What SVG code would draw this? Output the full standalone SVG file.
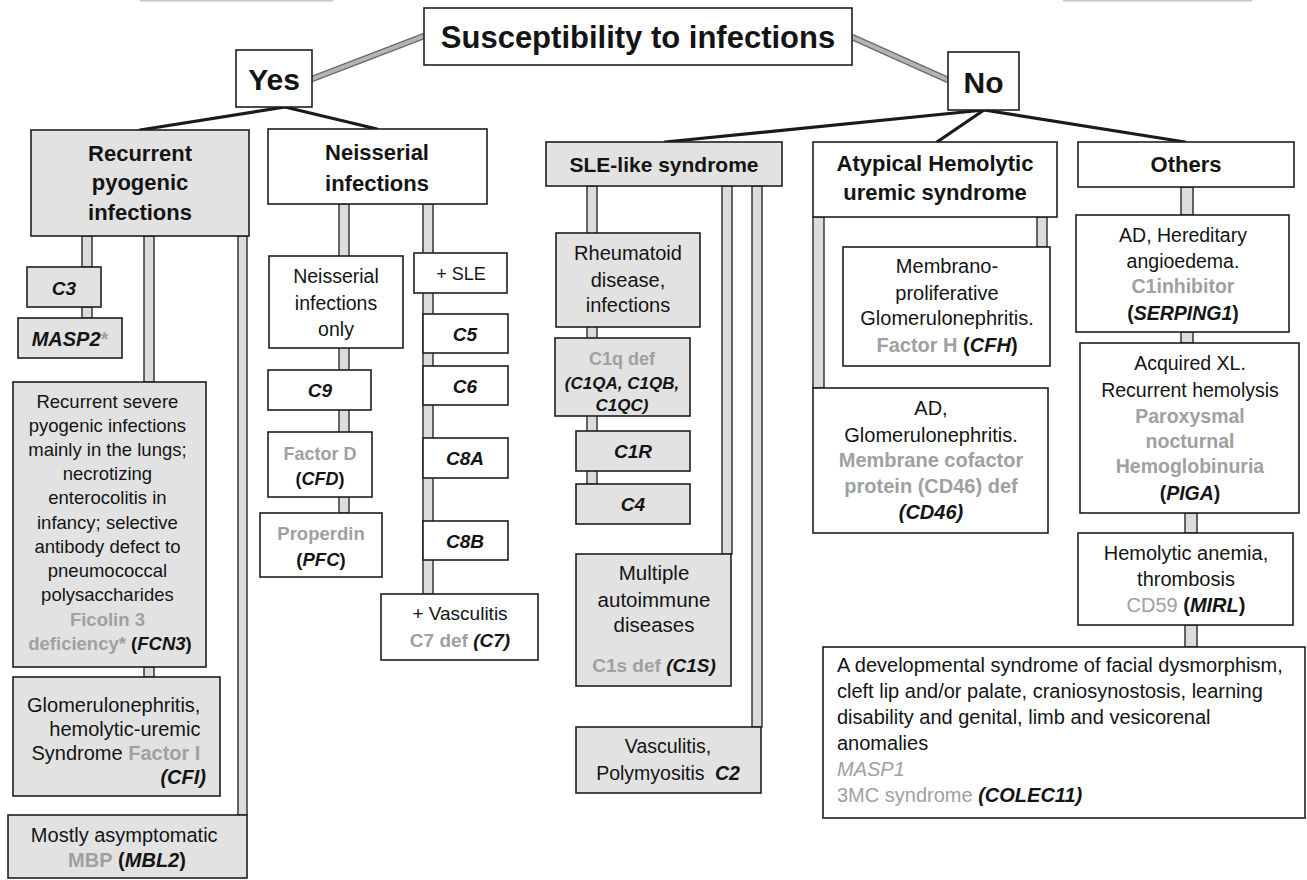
<svg xmlns="http://www.w3.org/2000/svg" width="1307" height="880" viewBox="0 0 1307 880">
<style>
  .bx{stroke:#1e1e1e;stroke-width:1.6}
  .sh{fill:#e2e2e2}
  .wh{fill:#fff}
  .pipe{fill:#dcdcdc;stroke:#2a2a2a;stroke-width:1.4}
  .ln{stroke:#1a1a1a;stroke-width:3.2;fill:none;stroke-linecap:round}
  .gl{stroke:#6a6a6a;stroke-width:6.5;fill:none}
  .gl2{stroke:#b4b4b4;stroke-width:4;fill:none}
  .edge{stroke:#c4c4c4;stroke-width:1.5}
  text{font-family:"Liberation Sans",Arial,sans-serif;fill:#141414;text-anchor:middle}
  .hd{font-weight:bold;font-size:22px}
  .b20{font-size:20px}
  .gn{font-weight:bold;font-style:italic}
  .bd{font-weight:bold}
  .gy{fill:#a0a0a0;font-weight:bold}
</style>

<!-- faint page-edge rules along the top -->
<line class="edge" x1="140" y1="0.8" x2="333" y2="0.8"/>
<line class="edge" x1="1063" y1="0.8" x2="1252" y2="0.8"/>

<g id="connectors">
  <!-- root to Yes / No -->
  <line class="gl" x1="312" y1="79" x2="424" y2="36"/>
  <line class="gl2" x1="312" y1="79" x2="424" y2="36"/>
  <line class="gl" x1="852" y1="37" x2="948" y2="80"/>
  <line class="gl2" x1="852" y1="37" x2="948" y2="80"/>
  <!-- Yes branches -->
  <line class="ln" x1="285" y1="107" x2="140" y2="130"/>
  <line class="ln" x1="285" y1="107" x2="377" y2="129"/>
  <!-- No branches -->
  <line class="ln" x1="984" y1="110" x2="665" y2="142"/>
  <line class="ln" x1="984" y1="110" x2="937" y2="142"/>
  <line class="ln" x1="984" y1="110" x2="1185" y2="142"/>
  <!-- recurrent pyogenic column pipes -->
  <rect class="pipe" x="82" y="236" width="10" height="31"/>
  <rect class="pipe" x="82" y="307" width="10" height="11"/>
  <rect class="pipe" x="144" y="236" width="10" height="146"/>
  <rect class="pipe" x="144" y="667" width="10" height="10"/>
  <rect class="pipe" x="238" y="236" width="9" height="579"/>
  <!-- neisserial column pipes -->
  <rect class="pipe" x="339" y="204" width="10" height="309"/>
  <rect class="pipe" x="423" y="204" width="10" height="390"/>
  <!-- SLE column pipes -->
  <rect class="pipe" x="587" y="186" width="10" height="298"/>
  <rect class="pipe" x="722" y="186" width="10" height="368"/>
  <rect class="pipe" x="752" y="186" width="10" height="541"/>
  <!-- aHUS column pipes -->
  <rect class="pipe" x="813" y="217" width="11" height="171"/>
  <rect class="pipe" x="1037" y="217" width="10" height="30"/>
  <!-- others column pipes -->
  <rect class="pipe" x="1181" y="187" width="12" height="28"/>
  <rect class="pipe" x="1181" y="332" width="12" height="11"/>
  <rect class="pipe" x="1185" y="513" width="12" height="20"/>
  <rect class="pipe" x="1185" y="625" width="12" height="22"/>
</g>

<!-- top level -->
<g id="root">
  <rect class="bx wh" x="424" y="8" width="428" height="57"/>
  <text x="638" y="48" class="bd" font-size="31">Susceptibility to infections</text>
</g>
<g id="yes">
  <rect class="bx wh" x="236" y="50" width="76" height="57"/>
  <text x="274" y="90" class="bd" font-size="30">Yes</text>
</g>
<g id="no">
  <rect class="bx wh" x="948" y="52" width="71" height="58"/>
  <text x="983.5" y="93" class="bd" font-size="30">No</text>
</g>

<!-- category headers -->
<g id="recurrent">
  <rect class="bx sh" x="31" y="130" width="218" height="106"/>
  <text class="hd"><tspan x="140" y="161">Recurrent</tspan><tspan x="140" y="190">pyogenic</tspan><tspan x="140" y="220">infections</tspan></text>
</g>
<g id="neisserial">
  <rect class="bx wh" x="268" y="129" width="219" height="75"/>
  <text class="hd"><tspan x="377" y="160">Neisserial</tspan><tspan x="377" y="191">infections</tspan></text>
</g>
<g id="sle">
  <rect class="bx sh" x="546" y="142" width="236" height="44"/>
  <text class="bd" font-size="21" x="664" y="172">SLE-like syndrome</text>
</g>
<g id="ahus">
  <rect class="bx wh" x="813" y="142" width="244" height="75"/>
  <text class="hd"><tspan x="935" y="171">Atypical Hemolytic</tspan><tspan x="935" y="200">uremic syndrome</tspan></text>
</g>
<g id="others">
  <rect class="bx wh" x="1078" y="142" width="216" height="45"/>
  <text class="hd" x="1186" y="172">Others</text>
</g>

<!-- recurrent pyogenic column -->
<g id="c3">
  <rect class="bx sh" x="27" y="267" width="74" height="40"/>
  <text class="gn" font-size="19" x="64" y="295">C3</text>
</g>
<g id="masp2">
  <rect class="bx sh" x="18" y="318" width="104" height="40"/>
  <text font-size="20" x="70" y="346"><tspan class="gn">MASP2</tspan><tspan class="gy">*</tspan></text>
</g>
<g id="fcn3">
  <rect class="bx sh" x="13" y="382" width="193" height="285"/>
  <text font-size="18.5">
    <tspan x="110" y="408">Recurrent severe</tspan>
    <tspan x="110" y="432">pyogenic infections</tspan>
    <tspan x="110" y="456">mainly in the lungs;</tspan>
    <tspan x="110" y="480">necrotizing</tspan>
    <tspan x="110" y="504">enterocolitis in</tspan>
    <tspan x="110" y="529">infancy; selective</tspan>
    <tspan x="110" y="553">antibody defect to</tspan>
    <tspan x="110" y="577">pneumococcal</tspan>
    <tspan x="110" y="601">polysaccharides</tspan>
    <tspan x="110" y="626" class="gy">Ficolin 3</tspan>
    <tspan x="110" y="650"><tspan class="gy">deficiency*</tspan> <tspan class="bd">(</tspan><tspan class="gn">FCN3</tspan><tspan class="bd">)</tspan></tspan>
  </text>
</g>
<g id="cfi">
  <rect class="bx sh" x="13" y="677" width="207" height="119"/>
  <text font-size="20" text-anchor="end" style="text-anchor:end">
    <tspan x="206" y="712">Glomerulonephritis,</tspan>
    <tspan x="206" y="736">hemolytic-uremic</tspan>
    <tspan x="206" y="760">Syndrome <tspan class="gy">Factor I</tspan></tspan>
    <tspan x="206" y="784" class="gn">(CFI)</tspan>
  </text>
</g>
<g id="mbl2">
  <rect class="bx sh" x="8" y="815" width="239" height="63"/>
  <text font-size="20">
    <tspan x="127" y="842">Mostly asymptomatic</tspan>
    <tspan x="127" y="867"><tspan class="gy">MBP</tspan> <tspan class="bd">(</tspan><tspan class="gn">MBL2</tspan><tspan class="bd">)</tspan></tspan>
  </text>
</g>

<!-- neisserial column -->
<g id="neisserial-only">
  <rect class="bx wh" x="269" y="256" width="134" height="92"/>
  <text font-size="19.5"><tspan x="336" y="283">Neisserial</tspan><tspan x="336" y="310">infections</tspan><tspan x="336" y="336">only</tspan></text>
</g>
<g id="c9">
  <rect class="bx wh" x="268" y="370" width="103" height="40"/>
  <text class="gn" font-size="19" x="320" y="397">C9</text>
</g>
<g id="cfd">
  <rect class="bx wh" x="268" y="432" width="104" height="65"/>
  <text font-size="18"><tspan x="320" y="460" class="gy">Factor D</tspan><tspan x="320" y="485"><tspan class="bd">(</tspan><tspan class="gn">CFD</tspan><tspan class="bd">)</tspan></tspan></text>
</g>
<g id="pfc">
  <rect class="bx wh" x="260" y="513" width="122" height="64"/>
  <text font-size="18.5"><tspan x="321" y="540" class="gy">Properdin</tspan><tspan x="321" y="566"><tspan class="bd">(</tspan><tspan class="gn">PFC</tspan><tspan class="bd">)</tspan></tspan></text>
</g>
<g id="plus-sle">
  <rect class="bx wh" x="414" y="253" width="93" height="40"/>
  <text font-size="18" x="461" y="280">+ SLE</text>
</g>
<g id="c5">
  <rect class="bx wh" x="423" y="314" width="85" height="39"/>
  <text class="gn" font-size="19" x="465" y="341">C5</text>
</g>
<g id="c6">
  <rect class="bx wh" x="423" y="366" width="85" height="39"/>
  <text class="gn" font-size="19" x="465" y="393">C6</text>
</g>
<g id="c8a">
  <rect class="bx wh" x="423" y="438" width="85" height="40"/>
  <text class="gn" font-size="19" x="465" y="465">C8A</text>
</g>
<g id="c8b">
  <rect class="bx wh" x="423" y="521" width="85" height="39"/>
  <text class="gn" font-size="19" x="465" y="548">C8B</text>
</g>
<g id="c7">
  <rect class="bx wh" x="381" y="594" width="157" height="66"/>
  <text font-size="19"><tspan x="460" y="620">+ Vasculitis</tspan><tspan x="460" y="647"><tspan class="gy">C7 def</tspan> <tspan class="gn">(C7)</tspan></tspan></text>
</g>

<!-- SLE-like column -->
<g id="c1q-disease">
  <rect class="bx sh" x="556" y="233" width="144" height="94"/>
  <text font-size="20"><tspan x="628" y="260">Rheumatoid</tspan><tspan x="628" y="287">disease,</tspan><tspan x="628" y="312">infections</tspan></text>
</g>
<g id="c1q">
  <rect class="bx sh" x="555" y="338" width="135" height="78"/>
  <text><tspan x="622" y="365" class="gy" font-size="18">C1q def</tspan><tspan x="622" y="389" class="gn" font-size="17">(C1QA, C1QB,</tspan><tspan x="622" y="411" class="gn" font-size="17">C1QC)</tspan></text>
</g>
<g id="c1r">
  <rect class="bx sh" x="576" y="431" width="114" height="40"/>
  <text class="gn" font-size="19" x="633" y="458">C1R</text>
</g>
<g id="c4">
  <rect class="bx sh" x="576" y="484" width="114" height="40"/>
  <text class="gn" font-size="19" x="633" y="511">C4</text>
</g>
<g id="c1s">
  <rect class="bx sh" x="576" y="554" width="155" height="132"/>
  <text font-size="20.5"><tspan x="654" y="580">Multiple</tspan><tspan x="654" y="607">autoimmune</tspan><tspan x="654" y="632">diseases</tspan><tspan x="654" y="672" font-size="19"><tspan class="gy">C1s def</tspan> <tspan class="gn">(C1S)</tspan></tspan></text>
</g>
<g id="c2">
  <rect class="bx sh" x="576" y="727" width="185" height="66"/>
  <text font-size="19.5"><tspan x="668" y="753">Vasculitis,</tspan><tspan x="668" y="780">Polymyositis <tspan class="gn" dx="5">C2</tspan></tspan></text>
</g>

<!-- aHUS column -->
<g id="cfh">
  <rect class="bx wh" x="843" y="247" width="207" height="119"/>
  <text font-size="20"><tspan x="947" y="273">Membrano-</tspan><tspan x="947" y="300">proliferative</tspan><tspan x="947" y="325">Glomerulonephritis.</tspan><tspan x="947" y="352"><tspan class="gy">Factor H</tspan> <tspan class="bd">(</tspan><tspan class="gn">CFH</tspan><tspan class="bd">)</tspan></tspan></text>
</g>
<g id="cd46">
  <rect class="bx wh" x="813" y="388" width="235" height="145"/>
  <text font-size="20"><tspan x="931" y="415">AD,</tspan><tspan x="931" y="442">Glomerulonephritis.</tspan><tspan x="931" y="467" class="gy">Membrane cofactor</tspan><tspan x="931" y="493" class="gy">protein (CD46) def</tspan><tspan x="931" y="519" class="gn">(CD46)</tspan></text>
</g>

<!-- others column -->
<g id="serping1">
  <rect class="bx wh" x="1076" y="215" width="213" height="117"/>
  <text font-size="19.5"><tspan x="1183" y="242">AD, Hereditary</tspan><tspan x="1183" y="268">angioedema.</tspan><tspan x="1183" y="293" class="gy">C1inhibitor</tspan><tspan x="1183" y="320"><tspan class="bd">(</tspan><tspan class="gn">SERPING1</tspan><tspan class="bd">)</tspan></tspan></text>
</g>
<g id="piga">
  <rect class="bx wh" x="1080" y="343" width="219" height="170"/>
  <text font-size="19.5"><tspan x="1190" y="370">Acquired XL.</tspan><tspan x="1190" y="397">Recurrent hemolysis</tspan><tspan x="1190" y="423" class="gy">Paroxysmal</tspan><tspan x="1190" y="448" class="gy">nocturnal</tspan><tspan x="1190" y="473" class="gy">Hemoglobinuria</tspan><tspan x="1190" y="500"><tspan class="bd">(</tspan><tspan class="gn">PIGA</tspan><tspan class="bd">)</tspan></tspan></text>
</g>
<g id="mirl">
  <rect class="bx wh" x="1078" y="533" width="215" height="92"/>
  <text font-size="20"><tspan x="1186" y="560">Hemolytic anemia,</tspan><tspan x="1186" y="586">thrombosis</tspan><tspan x="1186" y="612"><tspan fill="#a0a0a0">CD59</tspan> <tspan class="bd">(</tspan><tspan class="gn">MIRL</tspan><tspan class="bd">)</tspan></tspan></text>
</g>
<g id="masp1-colec11">
  <rect class="bx wh" x="823" y="647" width="482" height="171"/>
  <text font-size="20" style="text-anchor:start">
    <tspan x="837" y="672">A developmental syndrome of facial dysmorphism,</tspan>
    <tspan x="837" y="698">cleft lip and/or palate, craniosynostosis, learning</tspan>
    <tspan x="837" y="724">disability and genital, limb and vesicorenal</tspan>
    <tspan x="837" y="750">anomalies</tspan>
    <tspan x="837" y="776" fill="#a0a0a0" font-style="italic">MASP1</tspan>
    <tspan x="837" y="802"><tspan fill="#a0a0a0">3MC syndrome</tspan> <tspan class="gn">(COLEC11)</tspan></tspan>
  </text>
</g>
</svg>
